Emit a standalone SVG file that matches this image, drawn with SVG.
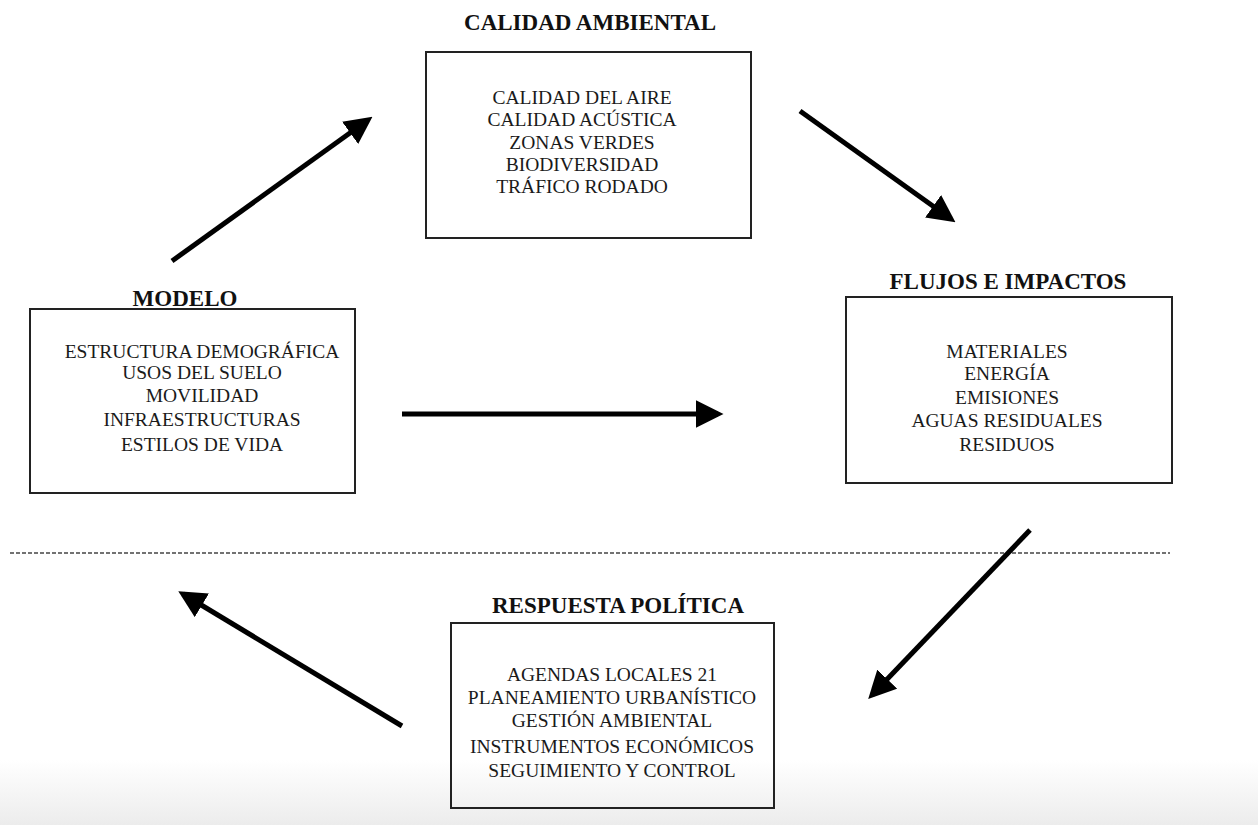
<svg xmlns="http://www.w3.org/2000/svg" width="1258" height="825" viewBox="0 0 1258 825">
<defs>
<style>
.box{fill:none;stroke:#222;stroke-width:2}
.t{font-family:"Liberation Serif",serif;font-size:19.5px;fill:#1a1a1a;text-anchor:middle}
.h{font-family:"Liberation Serif",serif;font-size:23px;font-weight:bold;fill:#111;text-anchor:middle}
.ar{stroke:#000;stroke-width:5;fill:none;marker-end:url(#ah)}
</style>
<marker id="ah" viewBox="0 0 10 10" refX="8" refY="5" markerWidth="5.5" markerHeight="5.5" orient="auto" markerUnits="strokeWidth">
<path d="M0,0 L10,5 L0,10 z" fill="#000"/>
</marker>
<linearGradient id="bg" x1="0" y1="0" x2="0" y2="1">
<stop offset="0" stop-color="#fff"/>
<stop offset="1" stop-color="#ececec"/>
</linearGradient>
</defs>
<rect width="1258" height="825" fill="#fff"/>
<rect x="0" y="760" width="1258" height="65" fill="url(#bg)"/>

<g id="calidad">
<text class="h" x="590" y="30">CALIDAD AMBIENTAL</text>
<rect class="box" x="426" y="52" width="325" height="186"/>
<text class="t" x="582" y="104">CALIDAD DEL AIRE</text>
<text class="t" x="582" y="126">CALIDAD ACÚSTICA</text>
<text class="t" x="582" y="149">ZONAS VERDES</text>
<text class="t" x="582" y="171">BIODIVERSIDAD</text>
<text class="t" x="582" y="193">TRÁFICO RODADO</text>
</g>

<g id="modelo">
<text class="h" x="185" y="306">MODELO</text>
<rect class="box" x="30" y="309" width="325" height="184"/>
<text class="t" x="202" y="358">ESTRUCTURA DEMOGRÁFICA</text>
<text class="t" x="202" y="379">USOS DEL SUELO</text>
<text class="t" x="202" y="402">MOVILIDAD</text>
<text class="t" x="202" y="426">INFRAESTRUCTURAS</text>
<text class="t" x="202" y="451">ESTILOS DE VIDA</text>
</g>

<g id="flujos">
<text class="h" x="1008" y="289">FLUJOS E IMPACTOS</text>
<rect class="box" x="846" y="297" width="326" height="186"/>
<text class="t" x="1007" y="358">MATERIALES</text>
<text class="t" x="1007" y="380">ENERGÍA</text>
<text class="t" x="1007" y="404">EMISIONES</text>
<text class="t" x="1007" y="427">AGUAS RESIDUALES</text>
<text class="t" x="1007" y="451">RESIDUOS</text>
</g>

<g id="respuesta">
<text class="h" x="618" y="613">RESPUESTA POLÍTICA</text>
<rect class="box" x="451" y="623" width="323" height="185"/>
<text class="t" x="612" y="681">AGENDAS LOCALES 21</text>
<text class="t" x="612" y="704">PLANEAMIENTO URBANÍSTICO</text>
<text class="t" x="612" y="727">GESTIÓN AMBIENTAL</text>
<text class="t" x="612" y="753">INSTRUMENTOS ECONÓMICOS</text>
<text class="t" x="612" y="777">SEGUIMIENTO Y CONTROL</text>
</g>

<g id="connectors">
<line x1="10" y1="553" x2="1170" y2="553" stroke="#444" stroke-width="1.5" stroke-dasharray="4,2"/>
<line class="ar" x1="172" y1="261" x2="368" y2="120"/>
<line class="ar" x1="800" y1="111" x2="951" y2="219"/>
<line class="ar" x1="402" y1="414" x2="718" y2="414"/>
<line class="ar" x1="1030" y1="530" x2="872" y2="695"/>
<line class="ar" x1="402" y1="726" x2="183" y2="594"/>
</g>
</svg>
